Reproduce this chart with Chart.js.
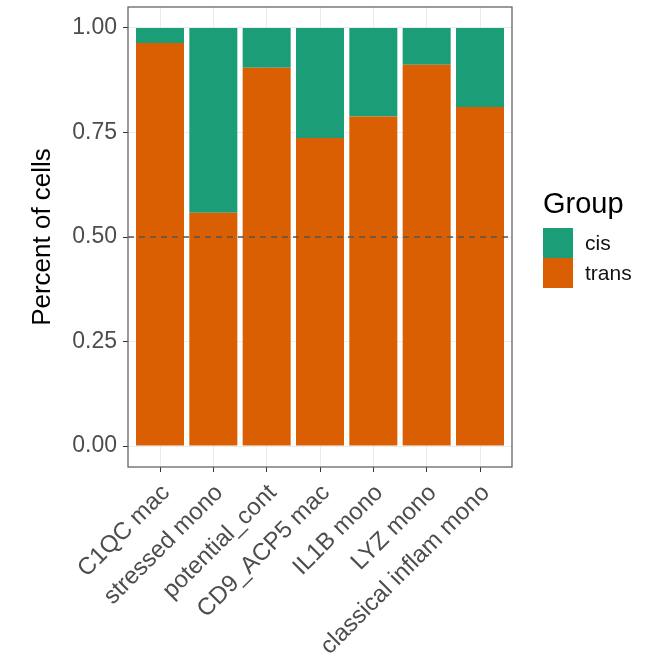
<!DOCTYPE html>
<html>
<head>
<meta charset="utf-8">
<script src="https://cdn.jsdelivr.net/npm/chart.js@4"></script>
<style>
  html, body { margin: 0; padding: 0; background: #fff; }
</style>
</head>
<body>
<canvas id="chart" width="661" height="666"></canvas>
<script>
const categories = ["C1QC mac", "stressed mono", "potential_cont", "CD9_ACP5 mac", "IL1B mono", "LYZ mono", "classical inflam mono"];
const transValues = [0.964, 0.558, 0.905, 0.737, 0.788, 0.912, 0.811];
const cisValues = [0.036, 0.442, 0.095, 0.263, 0.212, 0.088, 0.189];
const yTicks = [0, 0.25, 0.5, 0.75, 1];
const refLine = 0.5;

const CIS_COLOR = "#1B9E77";
const TRANS_COLOR = "#D95F02";
const FONT = "'Liberation Sans', Arial, sans-serif";

// panel border, dashed reference line and the legend on the right
const decor = {
  id: "decor",
  afterDatasetsDraw(chart) {
    const { ctx, chartArea: a, scales } = chart;
    const y = scales.y.getPixelForValue(refLine);
    ctx.save();
    ctx.strokeStyle = "#555";
    ctx.lineWidth = 1.5;
    ctx.setLineDash([6, 5]);
    ctx.beginPath();
    ctx.moveTo(a.left, y);
    ctx.lineTo(a.right, y);
    ctx.stroke();
    ctx.setLineDash([]);
    ctx.strokeStyle = "#666";
    ctx.lineWidth = 1.3;
    ctx.strokeRect(a.left, a.top, a.right - a.left, a.bottom - a.top);
    ctx.restore();
  },
  afterDraw(chart) {
    const { ctx } = chart;
    const x0 = 543, top = 228, key = 30;
    ctx.save();
    ctx.fillStyle = "#000";
    ctx.font = "29px " + FONT;
    ctx.textBaseline = "alphabetic";
    ctx.fillText("Group", x0, 213);
    const items = [
      { label: "cis", color: CIS_COLOR },
      { label: "trans", color: TRANS_COLOR },
    ];
    ctx.font = "21px " + FONT;
    ctx.textBaseline = "middle";
    items.forEach((it, i) => {
      const yy = top + i * key;
      ctx.fillStyle = it.color;
      ctx.fillRect(x0, yy, key, key);
      ctx.fillStyle = "#111";
      ctx.fillText(it.label, x0 + key + 12, yy + key / 2 + 1);
    });
    ctx.restore();
  },
};

new Chart(document.getElementById("chart").getContext("2d"), {
  type: "bar",
  data: {
    datasets: [
      {
        label: "trans",
        data: transValues.map((v, i) => ({ x: i, y: v })),
        backgroundColor: TRANS_COLOR,
        barPercentage: 0.9,
        categoryPercentage: 1.0,
      },
      {
        label: "cis",
        data: cisValues.map((v, i) => ({ x: i, y: v })),
        backgroundColor: CIS_COLOR,
        barPercentage: 0.9,
        categoryPercentage: 1.0,
      },
    ],
  },
  options: {
    responsive: false,
    animation: false,
    layout: { padding: { top: 7, right: 149, left: 0, bottom: 0 } },
    plugins: { legend: { display: false }, tooltip: { enabled: false } },
    scales: {
      x: {
        type: "linear",
        stacked: true,
        offset: false,
        min: -0.6,
        max: 6.6,
        afterBuildTicks: (s) => { s.ticks = categories.map((_, i) => ({ value: i })); },
        afterFit: (s) => { s.height = 199; s.paddingLeft = 0; s.paddingRight = 0; },
        border: { display: false },
        grid: { offset: false, color: "#EBEBEB", tickColor: "#333", tickLength: 5, lineWidth: 1 },
        ticks: {
          minRotation: 45,
          maxRotation: 45,
          autoSkip: false,
          padding: 7,
          labelOffset: 6,
          color: "#4D4D4D",
          font: { family: FONT, size: 24 },
          callback: (v) => categories[v] ?? "",
        },
      },
      y: {
        stacked: true,
        min: -0.05,
        max: 1.05,
        afterBuildTicks: (s) => { s.ticks = yTicks.map((v) => ({ value: v })); },
        afterFit: (s) => { s.width = 128; s.paddingTop = 0; s.paddingBottom = 0; },
        border: { display: false },
        grid: { color: "#EBEBEB", tickColor: "#333", tickLength: 5, lineWidth: 1 },
        ticks: {
          padding: 6,
          color: "#4D4D4D",
          font: { family: FONT, size: 23 },
          callback: (v) => Number(v).toFixed(2),
        },
        title: {
          display: true,
          text: "Percent of cells",
          color: "#000",
          font: { family: FONT, size: 26 },
          padding: { top: 27 },
        },
      },
    },
  },
  plugins: [decor],
});
</script>
</body>
</html>
